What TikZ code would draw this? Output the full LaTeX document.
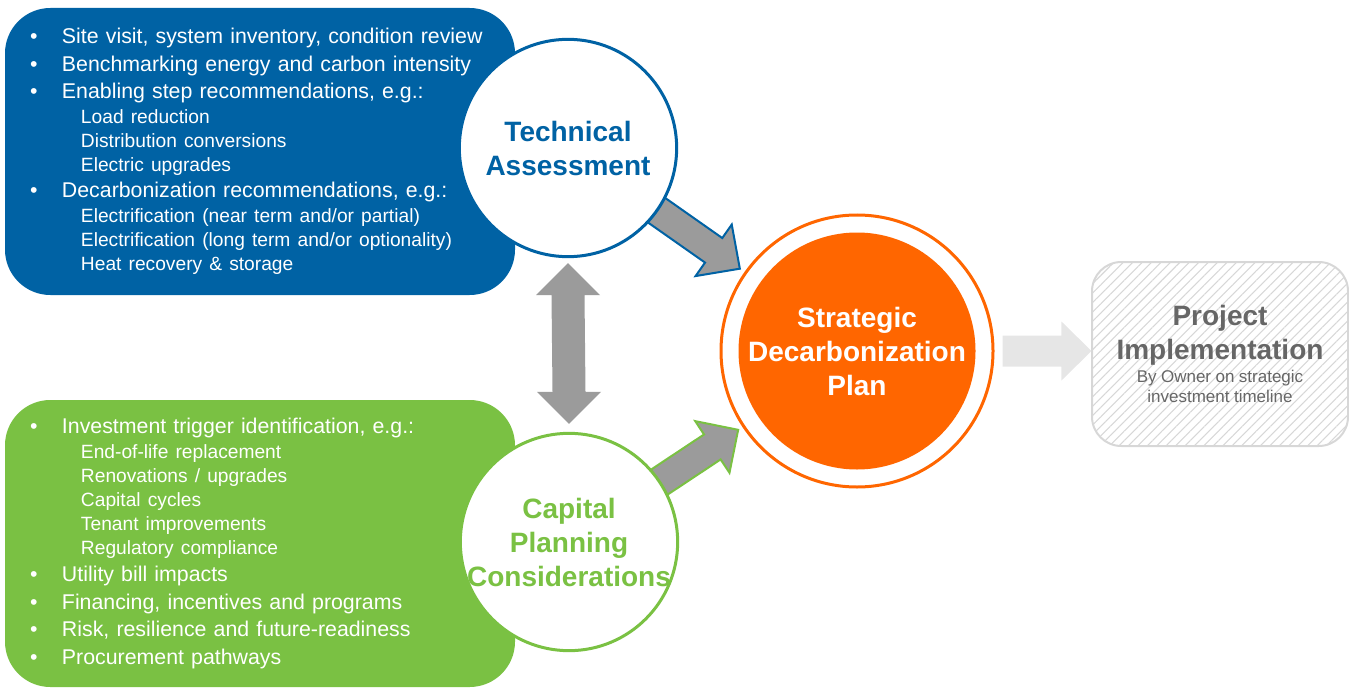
\documentclass[tikz,border=0pt]{standalone}
\usepackage{fontspec}
\setmainfont{Liberation Sans}
\usetikzlibrary{calc,backgrounds,patterns.meta}
\definecolor{tablue}{RGB}{0,98,164}
\definecolor{cpgreen}{RGB}{122,193,67}
\definecolor{sdporange}{RGB}{255,102,0}
\definecolor{arrowgray}{RGB}{155,155,155}
\definecolor{lightarrow}{RGB}{230,230,230}
\definecolor{pigray}{RGB}{102,102,102}
\definecolor{hatchgray}{RGB}{215,215,215}
\newcommand{\litem}[1]{\makebox[24pt][l]{\textbullet}#1}
\newcommand{\lsub}[1]{\hspace*{38.25pt}{\fontsize{14.4}{18}\selectfont #1}}

\begin{document}
\begin{tikzpicture}[x=0.75pt,y=-0.75pt,
	listbox/.style={rectangle,rounded corners=34pt,fill=#1,text=white,minimum height=215.25pt,text width=345pt,inner xsep=18.75pt,inner ysep=0pt,align=left,font=\fontsize{16}{18}\selectfont},
	bubble/.style={circle,draw=#1,line width=2.25pt,fill=white,text=#1,minimum size=163pt,inner sep=-4pt,align=center,font=\bfseries\fontsize{21}{25.5}\selectfont},
	blockarrow/.style={fill=arrowgray,line width=1.5pt,line join=miter}]
	\useasboundingbox (0,0) rectangle (1349,688);
	
	\node[listbox=tablue] (tabox) at (260,151.5) {\litem{Site visit, system inventory, condition review}\\[2.8pt]
		\litem{Benchmarking energy and carbon intensity}\\[2.5pt]
		\litem{Enabling step recommendations, e.g.:}\\[0.75pt]
		\lsub{Load reduction}\\
		\lsub{Distribution conversions}\\
		\lsub{Electric upgrades}\\[1.7pt]
		\litem{Decarbonization recommendations, e.g.:}\\[0.75pt]
		\lsub{Electrification (near term and/or partial)}\\
		\lsub{Electrification (long term and/or optionality)}\\
		\lsub{Heat recovery \& storage}};
	\node[listbox=cpgreen] (cpbox) at (260,543.5) {\litem{Investment trigger identification, e.g.:}\\[0.75pt]
		\lsub{End-of-life replacement}\\
		\lsub{Renovations / upgrades}\\
		\lsub{Capital cycles}\\
		\lsub{Tenant improvements}\\
		\lsub{Regulatory compliance}\\[2pt]
		\litem{Utility bill impacts}\\[2.8pt]
		\litem{Financing, incentives and programs}\\[2.5pt]
		\litem{Risk, resilience and future-readiness}\\[2.5pt]
		\litem{Procurement pathways}};
	
	\node[bubble=tablue] (ta) at (568,148) {Technical\\Assessment};
	\node[bubble=cpgreen] (cp) at (569,542) {Capital\\Planning\\Considerations};
	
	\node[circle,draw=sdporange,line width=2.25pt,fill=white,minimum size=204pt] (sdp) at (857,351) {};
	\node[circle,fill=sdporange,text=white,minimum size=177.75pt,inner sep=-6pt,align=center,font=\bfseries\fontsize{21}{25.5}\selectfont] (sdpin) at (sdp) {Strategic\\Decarbonization\\Plan};
	
	\node[rectangle,rounded corners=22pt,draw=hatchgray,line width=1.5pt,pattern={Lines[angle=45,distance=5pt,line width=0.8pt]},pattern color=hatchgray,minimum width=192pt,minimum height=138pt,text width=180pt,align=center,text=pigray] (pi) at (1220,354) {{\bfseries\fontsize{21}{25}\selectfont Project\\Implementation\par}\vskip2.5pt{\fontsize{12.75}{15}\selectfont By Owner on strategic\\investment timeline\par}};
	
	% two-way arrow between the assessments
	\coordinate (d1) at ($(ta.south)+(0,5)$);
	\coordinate (d2) at ($(cp.north)+(0,-8)$);
	\fill[arrowgray] (d1) -- ($(d1)+(32,32)$) -- ($(d1)+(16.5,32)$) -- ($(d2)+(16.5,-32)$) -- ($(d2)+(32,-32)$) -- (d2) -- ($(d2)+(-32,-32)$) -- ($(d2)+(-16.5,-32)$) -- ($(d1)+(-16.5,32)$) -- ($(d1)+(-32,32)$) -- cycle;
	
	% plan to implementation
	\coordinate (l1) at ($(sdp.east)+(8,0)$);
	\coordinate (l2) at (pi.west |- sdp.east);
	\fill[lightarrow] ($(l1)+(0,-15.5)$) -- ($(l2)+(-30,-15.5)$) -- ($(l2)+(-30,-29.5)$) -- (l2) -- ($(l2)+(-30,29.5)$) -- ($(l2)+(-30,15.5)$) -- ($(l1)+(0,15.5)$) -- cycle;
	
	\begin{scope}[on background layer]
		% assessment to plan
		\coordinate (a0) at ($(ta.center)!71.25pt!(sdp.center)$);
		\coordinate (a1) at ($(ta.center)!133.5pt!(sdp.center)$);
		\coordinate (a2) at ($(ta.center)!157.5pt!(sdp.center)$);
		\filldraw[blockarrow,draw=tablue] ($(a0)!11.25pt!90:(a2)$) -- ($(a1)!11.25pt!90:(a2)$) -- ($(a1)!23.6pt!90:(a2)$) -- (a2) -- ($(a1)!23.6pt!-90:(a2)$) -- ($(a1)!11.25pt!-90:(a2)$) -- ($(a0)!11.25pt!-90:(a2)$) -- cycle;
		% capital planning to plan
		\coordinate (b0) at ($(cp.center)!71.25pt!(sdp.center)$);
		\coordinate (b1) at ($(cp.center)!129pt!(sdp.center)$);
		\coordinate (b2) at ($(cp.center)!152.25pt!(sdp.center)$);
		\filldraw[blockarrow,draw=cpgreen] ($(b0)!11.25pt!90:(b2)$) -- ($(b1)!11.25pt!90:(b2)$) -- ($(b1)!23.25pt!90:(b2)$) -- (b2) -- ($(b1)!23.25pt!-90:(b2)$) -- ($(b1)!11.25pt!-90:(b2)$) -- ($(b0)!11.25pt!-90:(b2)$) -- cycle;
	\end{scope}
\end{tikzpicture}
\end{document}
